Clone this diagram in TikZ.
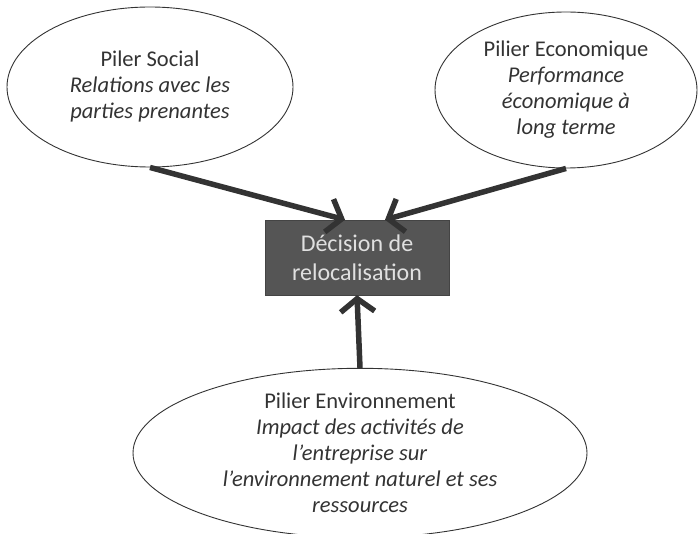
\documentclass[tikz,border=0pt]{standalone}
\usepackage{fontspec}
\setmainfont{Carlito}
\usetikzlibrary{shapes.geometric,arrows.meta}

\definecolor{inkgray}{HTML}{333333}
\definecolor{boxgray}{HTML}{555555}

\begin{document}
\begin{tikzpicture}[x=1pt,y=1pt,
    pilier/.style={draw=inkgray, ellipse, line width=0.9pt, inner sep=0pt, text=inkgray, align=center,
        font=\fontsize{22.5}{26}\selectfont},
    decision/.style={fill=boxgray, draw=boxgray!80!black, minimum width=184pt, minimum height=75pt, text=white!88!black,
        align=center, font=\fontsize{24}{29}\selectfont},
    fleche/.style={draw=inkgray, line width=5.5pt, -{Straight Barb[length=13pt,width=34pt]}}]
    \useasboundingbox (0,0) rectangle (700,533);

    \node[decision] (dec) at (357,275.5) {Décision de\\relocalisation};

    \node[pilier, minimum width=286pt, minimum height=160pt] (soc) at (150,446)
        {Piler Social\\\textit{Relations avec les}\\\textit{parties prenantes}};
    \node[pilier, minimum width=262pt, minimum height=156pt] (eco) at (566,443)
        {Pilier Economique\\\textit{Performance}\\\textit{économique à}\\\textit{long terme}};
    \node[pilier, minimum width=454pt, minimum height=158pt] (env) at (360,80)
        {Pilier Environnement\\\textit{Impact des activités de}\\\textit{l'entreprise sur}\\\textit{l'environnement naturel et ses}\\\textit{ressources}};

    \draw[fleche] (soc.south) -- ([xshift=-12pt]dec.north);
    \draw[fleche] (eco.south) -- ([xshift=28pt]dec.north);
    \draw[fleche] (env.north) -- (dec.south);
\end{tikzpicture}
\end{document}
